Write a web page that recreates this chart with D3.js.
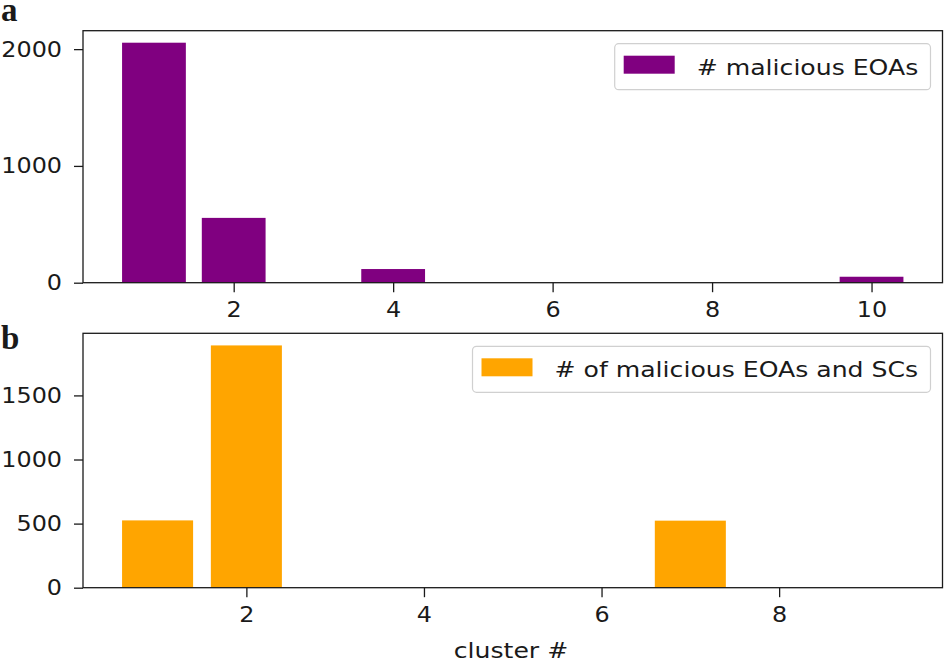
<!DOCTYPE html>
<html>
<head>
<meta charset="utf-8">
<script src="https://cdn.jsdelivr.net/npm/d3@7"></script>
<style>
  body { margin: 0; background: #fff; }
  text { font-family: "DejaVu Sans", sans-serif; fill: #1a1a1a; }
</style>
</head>
<body>
<script>
// values
const clustersA = [1, 2, 3, 4, 5, 6, 7, 8, 9, 10]
const eoaCounts = [2055, 555, 0, 117, 0, 0, 0, 0, 0, 51]
const ticksA_x = [2, 4, 6, 8, 10]
const ticksA_y = [0, 1000, 2000]

const clustersB = [1, 2, 3, 4, 5, 6, 7, 8, 9]
const eoaScCounts = [525, 1890, 0, 0, 0, 0, 523, 0, 0]
const ticksB_x = [2, 4, 6, 8]
const ticksB_y = [0, 500, 1000, 1500]

const WIDTH = 944
const HEIGHT = 663
const SX = 1.17      // the source figure is stretched sideways
const SX_TICK = 1.11
const FS = 21.5

const svg = d3.select('body').append('svg')
  .attr('width', WIDTH)
  .attr('height', HEIGHT)

function stretch(sel, k = SX) {
  sel.each(function() {
    const t = d3.select(this)
    const x = +t.attr('x') || 0
    t.attr('x', x / k).attr('transform', `scale(${k},1)`)
  })
}

function panel(opts) {
  const { clusters, counts, color, xt, yt, box, label, legend } = opts
  const lo = clusters[0] - 0.4, hi = clusters[clusters.length - 1] + 0.4
  const pad = (hi - lo) * 0.05
  const x = d3.scaleLinear().domain([lo - pad, hi + pad]).range([box.left, box.right])
  const y = d3.scaleLinear().domain([0, d3.max(counts) * 1.05]).range([box.bottom, box.top])

  const g = svg.append('g')

  g.selectAll('rect.bar')
    .data(clusters)
    .enter()
    .append('rect')
    .attr('class', 'bar')
    .attr('x', (d) => x(d - 0.4))
    .attr('width', (d) => x(d + 0.4) - x(d - 0.4))
    .attr('y', (d, i) => y(counts[i]))
    .attr('height', (d, i) => box.bottom - y(counts[i]))
    .attr('fill', color)

  const xAxis = g.append('g')
    .attr('transform', `translate(0,${box.bottom})`)
    .call(d3.axisBottom(x).tickValues(xt).tickFormat(d3.format('d')).tickSize(9.5).tickPadding(10).tickSizeOuter(0))
  const yAxis = g.append('g')
    .attr('transform', `translate(${box.left},0)`)
    .call(d3.axisLeft(y).tickValues(yt).tickFormat(d3.format('d')).tickSize(9).tickPadding(12).tickSizeOuter(0))

  for (const ax of [xAxis, yAxis]) {
    ax.select('.domain').remove()
    ax.selectAll('line').attr('stroke', '#1a1a1a').attr('stroke-width', 1.3)
    ax.selectAll('text').style('font-size', FS + 'px').attr('fill', '#1a1a1a')
    stretch(ax.selectAll('text'), SX_TICK)
  }

  g.append('rect')
    .attr('x', box.left).attr('y', box.top)
    .attr('width', box.right - box.left).attr('height', box.bottom - box.top)
    .attr('fill', 'none').attr('stroke', '#1a1a1a').attr('stroke-width', 1.3)

  // legend
  const lg = g.append('g')
  const txt = lg.append('text')
    .text(legend)
    .style('font-size', FS + 'px')
  const tw = txt.node().getComputedTextLength() * SX
  const bw = 9 + 51 + 22 + tw + 12
  const bx = box.right - 12 - bw
  const by = box.top + 13
  lg.insert('rect', 'text')
    .attr('x', bx).attr('y', by).attr('width', bw).attr('height', 46)
    .attr('rx', 4)
    .attr('fill', '#fff').attr('fill-opacity', 0.8)
    .attr('stroke', '#d0d0d0').attr('stroke-width', 1.2)
  lg.append('rect')
    .attr('x', bx + 9).attr('y', by + 12).attr('width', 51).attr('height', 18)
    .attr('fill', color)
  txt.attr('x', bx + 9 + 51 + 22).attr('y', by + 31)
  stretch(txt)

  svg.append('text')
    .attr('x', 1).attr('y', label.y)
    .text(label.text)
    .style('font-family', '"Liberation Serif", "DejaVu Serif", serif')
    .style('font-weight', 'bold')
    .style('font-size', '33px')
    .attr('fill', '#000')
}

panel({
  clusters: clustersA, counts: eoaCounts, color: '#800080',
  xt: ticksA_x, yt: ticksA_y,
  box: { left: 83, right: 942.5, top: 30.7, bottom: 282.7 },
  label: { text: 'a', y: 21 },
  legend: '# malicious EOAs'
})

panel({
  clusters: clustersB, counts: eoaScCounts, color: '#ffa500',
  xt: ticksB_x, yt: ticksB_y,
  box: { left: 83, right: 942.5, top: 333.3, bottom: 587.7 },
  label: { text: 'b', y: 349 },
  legend: '# of malicious EOAs and SCs'
})

const xl = svg.append('text')
  .attr('x', 511).attr('y', 658)
  .attr('text-anchor', 'middle')
  .style('font-size', FS + 'px')
  .text('cluster #')
stretch(xl)
</script>
</body>
</html>
